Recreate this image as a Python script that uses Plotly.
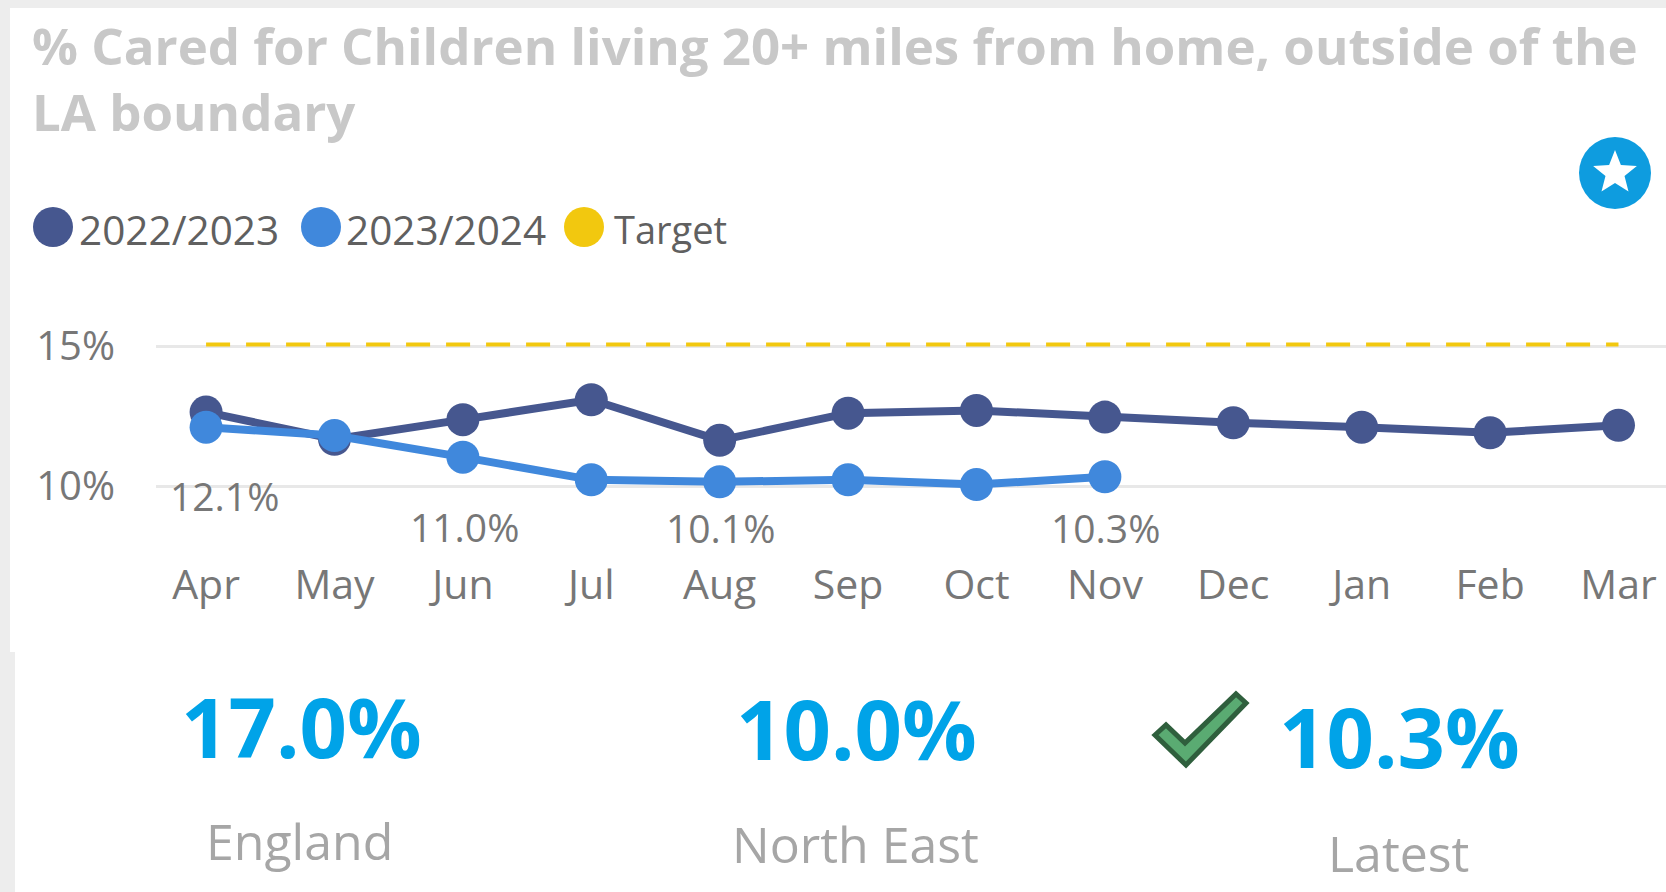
import math
import plotly.graph_objects as go

months = ["Apr", "May", "Jun", "Jul", "Aug", "Sep", "Oct", "Nov", "Dec", "Jan", "Feb", "Mar"]
series_2022 = [12.64, 11.67, 12.37, 13.08, 11.63, 12.6, 12.7, 12.46, 12.26, 12.1, 11.9, 12.17]
series_2023 = [12.1, 11.8, 11.03, 10.22, 10.15, 10.22, 10.05, 10.33]
target = [15.05] * 12
label_months = ["Apr", "Jun", "Aug", "Nov"]
label_values = [12.1, 11.03, 10.15, 10.33]
label_texts = ["12.1%", "11.0%", "10.1%", "10.3%"]
label_shifts = [(18, -68), (2, -69), (1, -46), (1, -51)]
kpi_values = ["17.0%", "10.0%", "10.3%"]
kpi_names = ["England", "North East", "Latest"]
legend_names = ["2022/2023", "2023/2024", "Target"]
title_text = "% Cared for Children living 20+ miles from home, outside of the<br>LA boundary"

W, H = 1666, 892
DARK, LIGHT, GOLD = "#46578F", "#4088DC", "#F2C80F"
FONT = "Open Sans"


def px(x):
    return x / W


def py(y):
    return 1 - y / H


def pixel_path(points):
    return "M" + " L".join(f"{px(x):.5f},{py(y):.5f}" for x, y in points) + " Z"


def rect(x0, y0, x1, y1, color):
    return dict(type="rect", xref="paper", yref="paper", x0=px(x0), x1=px(x1), y0=py(y0), y1=py(y1),
                fillcolor=color, line_width=0, layer="below")


def circle(cx, cy, d, color):
    return dict(type="circle", xref="paper", yref="paper", x0=px(cx - d / 2), x1=px(cx + d / 2),
                y0=py(cy + d / 2), y1=py(cy - d / 2), fillcolor=color, line_width=0)


fig = go.Figure()
fig.add_trace(go.Scatter(x=months, y=target, mode="lines", name="Target", showlegend=False,
                         line=dict(color=GOLD, width=4, dash="24px,16px")))
fig.add_trace(go.Scatter(x=months, y=series_2022, mode="lines+markers", name="2022/2023", showlegend=False,
                         line=dict(color=DARK, width=8), marker=dict(size=33, color=DARK)))
fig.add_trace(go.Scatter(x=months[:len(series_2023)], y=series_2023, mode="lines+markers", name="2023/2024",
                         showlegend=False, line=dict(color=LIGHT, width=8), marker=dict(size=33, color=LIGHT)))

ann = []
for m, v, t, (dx, dy) in zip(label_months, label_values, label_texts, label_shifts):
    ann.append(dict(x=m, y=v, xref="x", yref="y", text=t, showarrow=False, xshift=dx, yshift=dy,
                    font=dict(family=FONT, size=39, color="#777777")))
for name, x0, size in zip(legend_names, [77, 344, 612], [40.5, 40.5, 38]):
    ann.append(dict(x=px(x0), y=py(229), xref="paper", yref="paper", text=name, showarrow=False,
                    xanchor="left", yanchor="middle", font=dict(family=FONT, size=size, color="#606060")))
for v, x, y in zip(kpi_values, [301, 856, 1399], [725, 727, 735]):
    ann.append(dict(x=px(x), y=py(y), xref="paper", yref="paper", text=f"<b>{v}</b>", showarrow=False,
                    xanchor="center", yanchor="middle", font=dict(family=FONT, size=83, color="#00A3E8")))
for n, x, y in zip(kpi_names, [299, 855, 1398], [841, 844, 853]):
    ann.append(dict(x=px(x), y=py(y), xref="paper", yref="paper", text=n, showarrow=False,
                    xanchor="center", yanchor="middle", font=dict(family=FONT, size=50, color="#A6A6A6")))

star_c = (1615, 173)
star = []
for i in range(10):
    r = 23 if i % 2 == 0 else 10
    a = -math.pi / 2 + i * math.pi / 5
    star.append((star_c[0] + r * math.cos(a), star_c[1] + r * math.sin(a)))
check = [(1155, 735), (1166, 725), (1185, 743), (1236, 694), (1246, 703), (1186, 765)]

shapes = [
    rect(0, 0, W, 8, "#EDEDED"),
    rect(0, 0, 10, 652, "#EDEDED"),
    rect(0, 652, 15, H, "#EDEDED"),
    circle(53, 227, 40, DARK),
    circle(321, 227, 40, LIGHT),
    circle(584, 227, 40, GOLD),
    circle(star_c[0], star_c[1], 72, "#0E9CDF"),
    dict(type="path", xref="paper", yref="paper", path=pixel_path(star), fillcolor="white", line_width=0),
    dict(type="path", xref="paper", yref="paper", path=pixel_path(check), fillcolor="#5AAB72",
         line=dict(color="#2F5F3D", width=5)),
]

fig.update_layout(
    width=W, height=H, margin=dict(l=0, r=0, t=0, b=0, autoexpand=False),
    paper_bgcolor="white", plot_bgcolor="rgba(0,0,0,0)", showlegend=False,
    title=dict(text=title_text, x=px(32), xanchor="left", xref="paper", y=py(65), yanchor="top", yref="paper",
               font=dict(family=FONT, size=51, color="#C8C8C8", weight="bold")),
    xaxis=dict(domain=[px(156), 1], range=[-0.39, 11.37], type="category", categoryorder="array",
               categoryarray=months, showgrid=False, showline=False, zeroline=False, ticks="",
               ticklabelstandoff=43, tickfont=dict(family=FONT, size=41, color="#777777")),
    yaxis=dict(domain=[py(514), py(318)], range=[9, 16], tickvals=[10, 15], ticktext=["10%", "15%"],
               showgrid=True, gridcolor="#E8E8E8", gridwidth=3, zeroline=False, showline=False, ticks="",
               ticklabelstandoff=40, tickfont=dict(family=FONT, size=40, color="#777777")),
    annotations=ann, shapes=shapes,
)
fig.write_html("out.html", config={"displayModeBar": False},
               post_script="document.body.style.margin='0';document.documentElement.style.overflow='hidden';")
